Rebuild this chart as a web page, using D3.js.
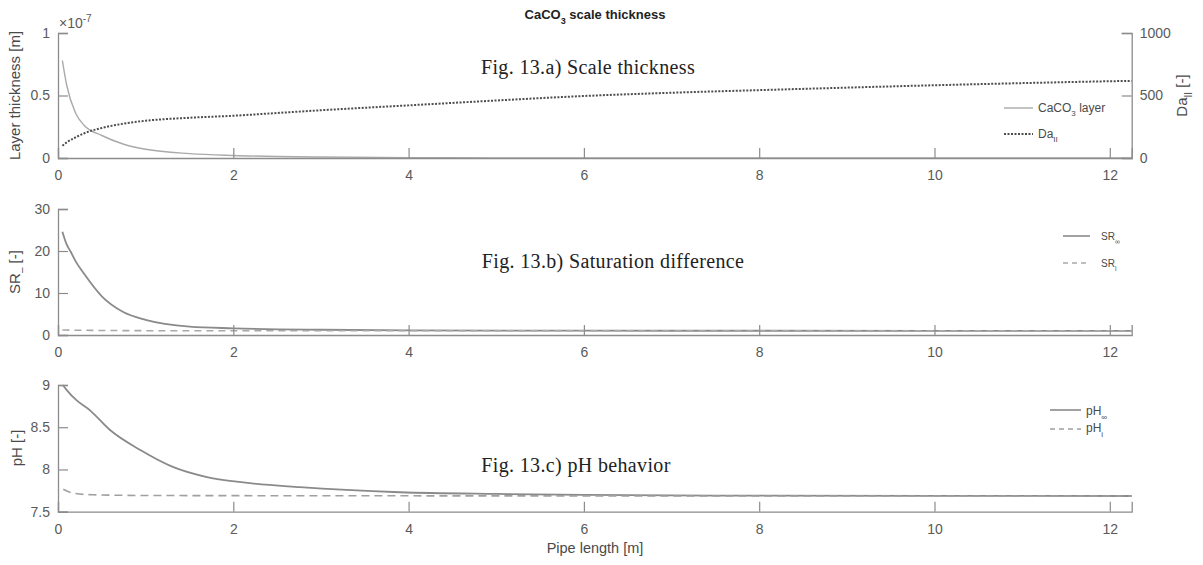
<!DOCTYPE html>
<html><head><meta charset="utf-8">
<script src="https://cdn.jsdelivr.net/npm/d3@7"></script>
<style>body{margin:0;background:#fff}svg{display:block}text{font-family:"Liberation Sans",Arial,sans-serif}</style>
</head><body>
<svg id="c" width="1203" height="565"></svg>
<script>
// ---- data ----
const xTicks = [0,2,4,6,8,10,12];
const xMax = 12.25;
// Panel a
const layerX = [0.05,0.1,0.2,0.3,0.5,0.75,1,1.5,2,2.5,3,4,5,6,8,10,12.25];
const layerY = [0.78,0.58,0.36,0.26,0.18,0.11,0.07,0.035,0.02,0.012,0.008,0.003,0.001,0.0003,0,0,0]; // x1e-7 m
const daX = [0.05,0.1,0.2,0.3,0.5,0.75,1,1.5,2,2.5,3,4,5,6,7,8,9,10,11,12,12.25];
const daY = [98,125,165,198,240,275,298,322,338,360,382,421,460,496,522,543,563,582,599,614,617];
const layerTicks = [0,0.5,1];
const daTicks = [0,500,1000];
// Panel b
const srX = [0.05,0.1,0.14,0.2,0.3,0.5,0.75,1,1.5,2,3,4,6,8,10,12.25];
const srInf = [24.6,21.5,20,17.6,14.5,9.2,5.4,3.6,2.0,1.6,1.25,1.1,1.03,1.01,1.0,1.0];
const srI = [1.2,1.18,1.16,1.14,1.12,1.08,1.05,1.03,1.02,1.01,1.0,1.0,1.0,1.0,1.0,1.0];
const srTicks = [0,10,20,30];
// Panel c
const phX = [0.054,0.1,0.21,0.365,0.59,0.94,1.31,1.7,2.04,2.76,3.9,5,6,8,10,12.25];
const phInf = [9.0,8.94,8.82,8.70,8.47,8.23,8.03,7.91,7.855,7.79,7.73,7.71,7.70,7.69,7.688,7.686];
const phIX = [0.06,0.17,0.4,1,2,4,6,8,10,12.25];
const phI = [7.765,7.72,7.70,7.692,7.69,7.688,7.687,7.686,7.686,7.686];
const phTicks = [7.5,8,8.5,9];

const svg = d3.select("#c");
const axisCol = "#8c8c8c", tickTxt = "#5a5a5a";
const x = d3.scaleLinear().domain([0,xMax]).range([58,1131.7]);

function drawXAxis(y0, labelY){
  const g = svg.append("g").attr("transform",`translate(0,${y0})`);
  const ax = d3.axisBottom(x).tickValues(xTicks).tickSize(-10).tickPadding(0).tickFormat(d3.format("d"));
  g.call(ax);
  g.select(".domain").attr("stroke",axisCol).attr("stroke-width",1.3);
  g.selectAll(".tick line").attr("stroke",axisCol).attr("stroke-width",1.2);
  g.selectAll(".tick text").attr("fill",tickTxt).attr("font-size",14).attr("dy",null).attr("y",labelY);
}
function drawYAxis(sc, ticks, xpos, right, fmt){
  const g = svg.append("g").attr("transform",`translate(${xpos},0)`);
  const ax = (right?d3.axisRight(sc):d3.axisLeft(sc)).tickValues(ticks).tickSize(-10).tickPadding(8).tickFormat(fmt);
  g.call(ax);
  g.select(".domain").attr("stroke",axisCol).attr("stroke-width",1.3);
  g.selectAll(".tick line").attr("stroke",axisCol).attr("stroke-width",1.2);
  g.selectAll(".tick text").attr("fill",tickTxt).attr("font-size",14);
}
function line(xs, ys, sc, col, w, dash){
  const ln = d3.line().x(d=>x(d[0])).y(d=>sc(d[1])).curve(d3.curveMonotoneX);
  svg.append("path").datum(xs.map((v,i)=>[v,ys[i]])).attr("d",ln)
    .attr("fill","none").attr("stroke",col).attr("stroke-width",w).attr("stroke-dasharray",dash||null);
}
function ylabel(txt, cx, cy, sub, rest, size){
  const t = svg.append("text").attr("transform",`translate(${cx},${cy}) rotate(-90)`)
    .attr("text-anchor","middle").attr("fill","#4a4a4a").attr("font-size",size||15);
  t.append("tspan").text(txt);
  if(sub){ t.append("tspan").attr("font-size",10).attr("dy",5).text(sub); t.append("tspan").attr("dy",-5).text(rest); }
}

// ---- Panel a ----
const ya = d3.scaleLinear().domain([0,1]).range([158,33]);
const yda = d3.scaleLinear().domain([0,1000]).range([158,33]);
line(layerX, layerY, ya, "#aaaaaa", 1.4);
line(daX, daY, yda, "#4d4d4d", 2, "2,1.5");
drawXAxis(158, 22);
drawYAxis(ya, layerTicks, 58, false, d=>d===0.5?"0.5":d3.format("d")(d));
drawYAxis(yda, daTicks, 1131.7, true, d3.format("d"));
// exponent
const ex = svg.append("text").attr("x",59).attr("y",28).attr("fill",tickTxt).attr("font-size",14);
ex.append("tspan").text("×10");
ex.append("tspan").attr("font-size",10).attr("dy",-6).text("-7");
ylabel("Layer thickness [m]", 20, 95.5);
ylabel("Da", 1187, 95.5, "II", " [-]");
// legend a
svg.append("line").attr("x1",1004).attr("x2",1033).attr("y1",108).attr("y2",108).attr("stroke","#aaaaaa").attr("stroke-width",1.4);
svg.append("line").attr("x1",1004).attr("x2",1033).attr("y1",134).attr("y2",134).attr("stroke","#4d4d4d").attr("stroke-width",2).attr("stroke-dasharray","2,1.5");
const la = svg.append("text").attr("x",1038).attr("y",112).attr("fill","#4a4a4a").attr("font-size",12);
la.append("tspan").text("CaCO"); la.append("tspan").attr("font-size",8).attr("dy",4).text("3"); la.append("tspan").attr("dy",-4).text(" layer");
const lb = svg.append("text").attr("x",1038).attr("y",138).attr("fill","#4a4a4a").attr("font-size",12);
lb.append("tspan").text("Da"); lb.append("tspan").attr("font-size",8).attr("dy",4).text("II");

// ---- Panel b ----
const yb = d3.scaleLinear().domain([0,30]).range([335,209]);
line(srX, srInf, yb, "#8a8a8a", 1.8);
line(srX, srI, yb, "#a8a8a8", 1.6, "7,5");
drawXAxis(335, 22);
drawYAxis(yb, srTicks, 58, false, d3.format("d"));
ylabel("SR", 20, 272, "‒", " [-]");
svg.append("line").attr("x1",1063).attr("x2",1090).attr("y1",236).attr("y2",236).attr("stroke","#8a8a8a").attr("stroke-width",1.6);
svg.append("line").attr("x1",1063).attr("x2",1090).attr("y1",263).attr("y2",263).attr("stroke","#a8a8a8").attr("stroke-width",1.4).attr("stroke-dasharray","5,4");
const lc = svg.append("text").attr("x",1101).attr("y",240).attr("fill","#4a4a4a").attr("font-size",10);
lc.append("tspan").text("SR"); lc.append("tspan").attr("font-size",7).attr("dy",4).text("∞");
const ld = svg.append("text").attr("x",1101).attr("y",267).attr("fill","#4a4a4a").attr("font-size",10);
ld.append("tspan").text("SR"); ld.append("tspan").attr("font-size",7).attr("dy",4).text("i");

// ---- Panel c ----
const yc = d3.scaleLinear().domain([7.5,9]).range([511.7,385]);
line(phX, phInf, yc, "#8a8a8a", 1.8);
line(phIX, phI, yc, "#a0a0a0", 1.6, "8,5");
drawXAxis(511.7, 22);
drawYAxis(yc, phTicks, 58, false, d=>d%1===0?d3.format("d")(d):String(d));
ylabel("pH [-]", 22, 448);
svg.append("line").attr("x1",1050).attr("x2",1081).attr("y1",410).attr("y2",410).attr("stroke","#8a8a8a").attr("stroke-width",1.6);
svg.append("line").attr("x1",1050).attr("x2",1081).attr("y1",429).attr("y2",429).attr("stroke","#a0a0a0").attr("stroke-width",1.4).attr("stroke-dasharray","5,4");
const le = svg.append("text").attr("x",1086).attr("y",415).attr("fill","#4a4a4a").attr("font-size",12);
le.append("tspan").text("pH"); le.append("tspan").attr("font-size",8).attr("dy",5).text("∞");
const lf = svg.append("text").attr("x",1086).attr("y",432).attr("fill","#4a4a4a").attr("font-size",12);
lf.append("tspan").text("pH"); lf.append("tspan").attr("font-size",8).attr("dy",5).text("i");
svg.append("text").attr("x",595).attr("y",553).attr("text-anchor","middle").attr("fill","#4a4a4a").attr("font-size",14.5).text("Pipe length [m]");

// ---- titles ----
const tt = svg.append("text").attr("x",595).attr("y",19).attr("text-anchor","middle").attr("font-weight","bold").attr("font-size",13).attr("fill","#222");
tt.append("tspan").text("CaCO"); tt.append("tspan").attr("font-size",9).attr("dy",5).text("3"); tt.append("tspan").attr("dy",-5).text(" scale thickness");
[["Fig. 13.a) Scale thickness",588,74],["Fig. 13.b) Saturation difference",613,268],["Fig. 13.c) pH behavior",576,472]].forEach(([s,cx,cy])=>{
  svg.append("text").attr("x",cx).attr("y",cy).attr("text-anchor","middle")
    .style("font-family","'Liberation Serif','Times New Roman',serif").style("letter-spacing","0.35px")
    .attr("font-size",20).attr("fill","#222").text(s);
});
</script>
</body></html>
